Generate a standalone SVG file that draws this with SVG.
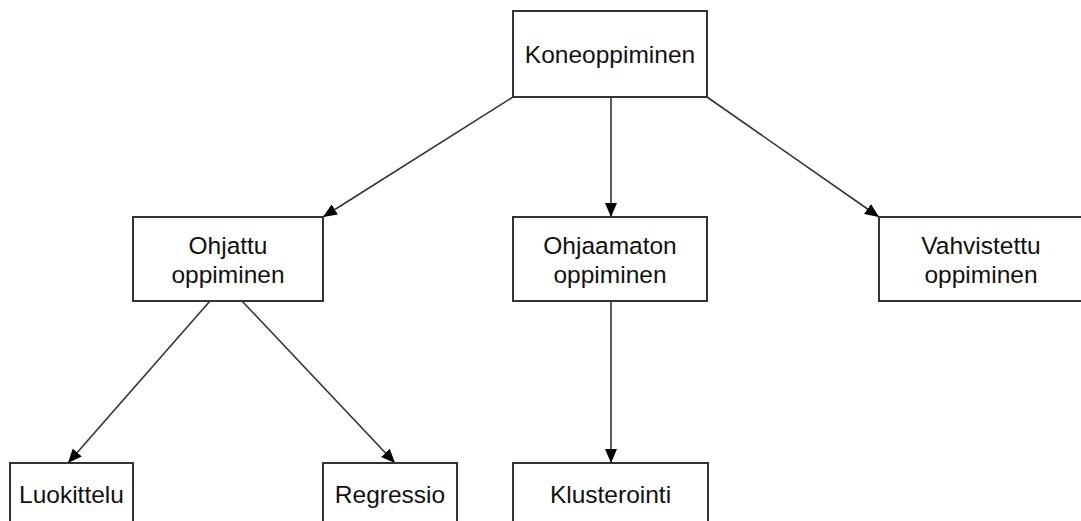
<svg xmlns="http://www.w3.org/2000/svg" width="1081" height="521" viewBox="0 0 1081 521">
<style>
.box{fill:#fff;stroke:#333;stroke-width:2}
.lbl{font-family:"Liberation Sans",Arial,sans-serif;font-size:24.5px;fill:#111;text-anchor:middle}
.edge{stroke:#333;stroke-width:1.6;fill:none;marker-end:url(#arr)}
</style>
<defs>
<marker id="arr" viewBox="0 0 14 12" refX="14" refY="6" markerWidth="14" markerHeight="12" markerUnits="userSpaceOnUse" orient="auto">
<path d="M0,0 L14,6 L0,12 Z" fill="#000"/>
</marker>
</defs>
<rect width="1081" height="521" fill="#fff"/>
<g id="connectors">
<line class="edge" x1="513" y1="97" x2="323" y2="217"/>
<line class="edge" x1="611" y1="97" x2="611" y2="217"/>
<line class="edge" x1="707" y1="97" x2="879" y2="217"/>
<line class="edge" x1="210" y1="301" x2="68" y2="463"/>
<line class="edge" x1="242" y1="301" x2="395" y2="463"/>
<line class="edge" x1="611" y1="301" x2="611" y2="463"/>
</g>
<g id="koneoppiminen">
<rect class="box" x="513" y="11" width="194" height="86"/>
<text class="lbl" x="610" y="63">Koneoppiminen</text>
</g>
<g id="ohjattu">
<rect class="box" x="133" y="217" width="190" height="84"/>
<text class="lbl" x="228" y="254">Ohjattu</text>
<text class="lbl" x="228" y="283">oppiminen</text>
</g>
<g id="ohjaamaton">
<rect class="box" x="513" y="217" width="194" height="84"/>
<text class="lbl" x="610" y="254">Ohjaamaton</text>
<text class="lbl" x="610" y="283">oppiminen</text>
</g>
<g id="vahvistettu">
<rect class="box" x="879" y="217" width="206" height="84"/>
<text class="lbl" x="981" y="254">Vahvistettu</text>
<text class="lbl" x="981" y="283">oppiminen</text>
</g>
<g id="luokittelu">
<rect class="box" x="10" y="463" width="123" height="70"/>
<text class="lbl" x="71.5" y="503">Luokittelu</text>
</g>
<g id="regressio">
<rect class="box" x="323" y="463" width="134" height="70"/>
<text class="lbl" x="390" y="503">Regressio</text>
</g>
<g id="klusterointi">
<rect class="box" x="513" y="463" width="195" height="70"/>
<text class="lbl" x="610.5" y="503">Klusterointi</text>
</g>
</svg>
